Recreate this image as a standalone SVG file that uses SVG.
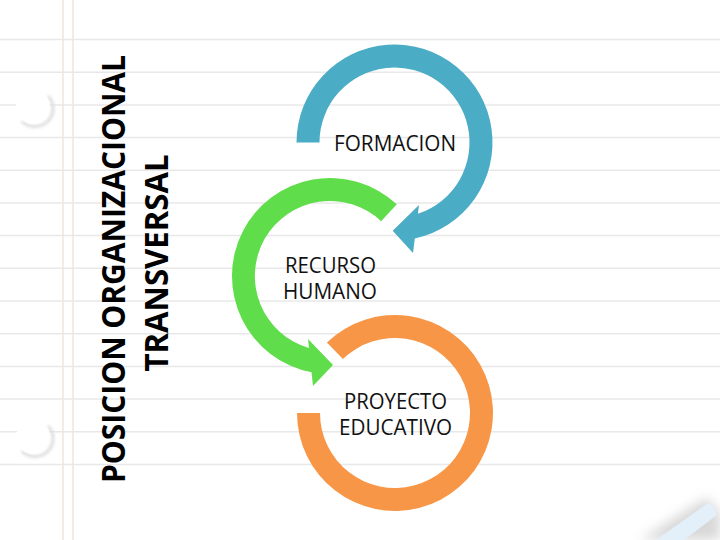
<svg xmlns="http://www.w3.org/2000/svg" width="720" height="540" viewBox="0 0 720 540">
  <style>
    .hl { stroke: #e8e8e8; stroke-width: 1.5; }
    .vl { stroke: #f1e4d8; stroke-width: 1.5; }
    .lbl { font-family: "Open Sans", "Liberation Sans", sans-serif; font-size: 21px; fill: #111; text-anchor: middle; }
    .title { font-family: "Open Sans", "Liberation Sans", sans-serif; font-weight: bold; font-size: 32px; fill: #000; text-anchor: middle; }
  </style>
  <defs>
    <filter id="blur" x="-50%" y="-50%" width="200%" height="200%">
      <feGaussianBlur stdDeviation="6"/>
    </filter>
    <filter id="hblur" x="-50%" y="-50%" width="200%" height="200%">
      <feGaussianBlur stdDeviation="1.5"/>
    </filter>
  </defs>
  <rect width="720" height="540" fill="#ffffff"/>
  <g id="paper">
    <line class="hl" x1="0" y1="39.5" x2="720" y2="39.5"/>
    <line class="hl" x1="0" y1="72.2" x2="720" y2="72.2"/>
    <line class="hl" x1="0" y1="104.9" x2="720" y2="104.9"/>
    <line class="hl" x1="0" y1="137.6" x2="720" y2="137.6"/>
    <line class="hl" x1="0" y1="170.3" x2="720" y2="170.3"/>
    <line class="hl" x1="0" y1="202.9" x2="720" y2="202.9"/>
    <line class="hl" x1="0" y1="235.6" x2="720" y2="235.6"/>
    <line class="hl" x1="0" y1="268.3" x2="720" y2="268.3"/>
    <line class="hl" x1="0" y1="301.0" x2="720" y2="301.0"/>
    <line class="hl" x1="0" y1="333.7" x2="720" y2="333.7"/>
    <line class="hl" x1="0" y1="366.4" x2="720" y2="366.4"/>
    <line class="hl" x1="0" y1="399.1" x2="720" y2="399.1"/>
    <line class="hl" x1="0" y1="431.8" x2="720" y2="431.8"/>
    <line class="hl" x1="0" y1="464.5" x2="720" y2="464.5"/>
    <line class="vl" x1="63" y1="0" x2="63" y2="540"/>
    <line class="vl" x1="73" y1="0" x2="73" y2="540"/>
    <g id="hole1">
      <path d="M 48 96 A 17 17 0 0 1 22 121" fill="none" stroke="#dcdcdc" stroke-width="3" filter="url(#hblur)"/>
      <circle cx="33" cy="107" r="17" fill="#ffffff"/>
    </g>
    <g id="hole2">
      <path d="M 48 426 A 17 17 0 0 1 22 451" fill="none" stroke="#dcdcdc" stroke-width="3" filter="url(#hblur)"/>
      <circle cx="33" cy="437" r="17" fill="#ffffff"/>
    </g>
    <g id="curl">
      <path d="M 640 540 L 706 498 L 720 512 L 720 540 Z" fill="#b8b8b8" opacity="0.55" filter="url(#blur)"/>
      <path d="M 656 540 L 708 503 Q 715 506 717 515 L 684 540 Z" fill="#e3eff9"/>
    </g>
  </g>
  <g id="title">
    <text class="title" transform="translate(125,269) rotate(-90)" x="0" y="0" textLength="428" lengthAdjust="spacingAndGlyphs">POSICION ORGANIZACIONAL</text>
    <text class="title" transform="translate(168,263) rotate(-90)" x="0" y="0" textLength="217" lengthAdjust="spacingAndGlyphs">TRANSVERSAL</text>
  </g>
  <g id="connectors"></g>
  <g id="formacion">
    <path d="M 296.5 142.5 A 98 98 0 1 1 414.8 238.4 L 413 253 L 392.7 230.7 L 419 205 L 417.9 213.8 A 75 75 0 1 0 319.5 142.5 Z" fill="#4bacc6"/>
    <text class="lbl" x="395" y="151" textLength="122" lengthAdjust="spacingAndGlyphs">FORMACION</text>
  </g>
  <g id="recurso">
    <path d="M 396.8 204.3 A 98 98 0 1 0 311.54 372.24 L 313 386 L 333 365 L 308 339 L 308.96 347.99 A 75 75 0 1 1 381.1 221.2 Z" fill="#5fdd4a"/>
    <text class="lbl" x="330.5" y="273" textLength="91" lengthAdjust="spacingAndGlyphs">RECURSO</text>
    <text class="lbl" x="330" y="298.5" textLength="94" lengthAdjust="spacingAndGlyphs">HUMANO</text>
  </g>
  <g id="proyecto">
    <path d="M 297 413 A 98 98 0 1 0 326.9 342.5 L 342.9 359.05 A 75 75 0 1 1 320 413 Z" fill="#f79646"/>
    <text class="lbl" x="395.5" y="409" textLength="103" lengthAdjust="spacingAndGlyphs">PROYECTO</text>
    <text class="lbl" x="395.5" y="435" textLength="113" lengthAdjust="spacingAndGlyphs">EDUCATIVO</text>
  </g>
</svg>
